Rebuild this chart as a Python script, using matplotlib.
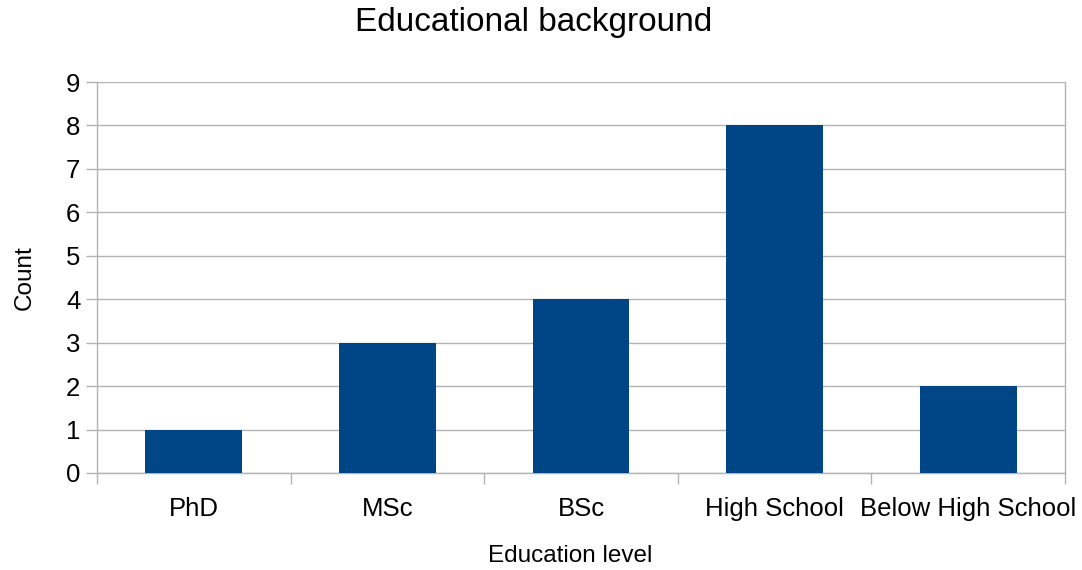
import matplotlib
matplotlib.use("Agg")
import matplotlib.pyplot as plt
import numpy as np

categories = ["PhD", "MSc", "BSc", "High School", "Below High School"]
counts = [1, 3, 4, 8, 2]
y_ticks = list(range(0, 10))

plt.rcParams['font.family'] = ['Liberation Sans', 'DejaVu Sans']

fig = plt.figure(figsize=(10.82, 5.70), dpi=100)
ax = fig.add_axes([97/1082, 1-473/570, (1065-97)/1082, (473-82)/570])

x = np.arange(len(categories))
grid_c = "#b3b3b3"
ax.bar(x, counts, width=0.5, color="#004586", zorder=3)

ax.set_xlim(-0.5, len(categories) - 0.5)
ax.set_ylim(0, 9)
ax.set_yticks(y_ticks)
ax.set_yticklabels([str(v) for v in y_ticks], fontsize=18.5)
ax.yaxis.grid(True, color=grid_c, linewidth=1, zorder=0)

ax.set_xticks(np.arange(-0.5, len(categories)), labels=[""] * (len(categories) + 1))
ax.set_xticks(x, labels=categories, minor=True, fontsize=18.5)
ax.tick_params(axis='x', which='major', length=8, color=grid_c, width=1)
ax.tick_params(axis='x', which='minor', length=0, pad=17)
ax.tick_params(axis='y', length=8, color=grid_c, width=1, pad=4)

ax.spines["top"].set_visible(False)
for s in ["left", "bottom", "right"]:
    ax.spines[s].set_color(grid_c)
    ax.spines[s].set_linewidth(1)

ax.set_xlabel("Education level", fontsize=17.5, labelpad=19)
ax.xaxis.set_label_coords((570 - 97) / (1065 - 97), -(556 - 473) / (473 - 82) , transform=ax.transAxes)
ax.xaxis.label.set_va("center")
ax.set_ylabel("Count", fontsize=17.5, labelpad=22)
fig.text(0.493, 1-22/570, "Educational background", fontsize=24, ha="center", va="center")

fig.savefig("out.png", dpi=100)
